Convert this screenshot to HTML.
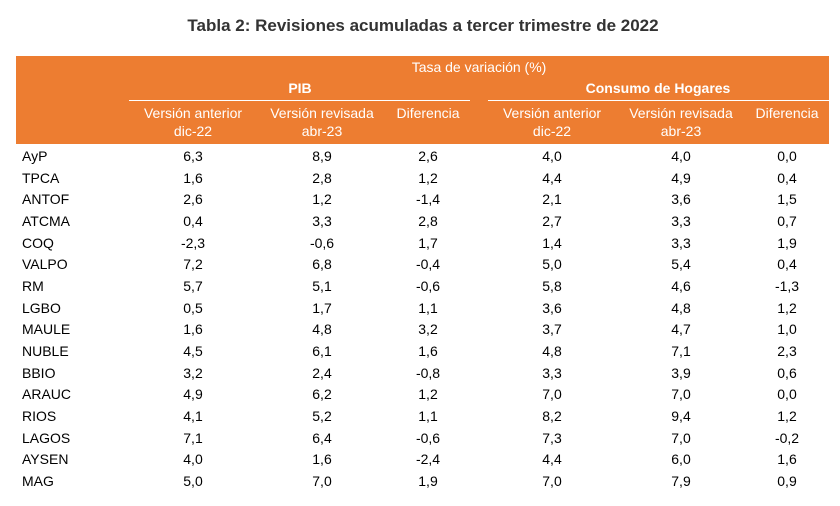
<!DOCTYPE html>
<html><head><meta charset="utf-8"><style>
body{margin:0;width:840px;height:506px;background:#fff;font-family:"Liberation Sans",sans-serif;position:relative;overflow:hidden;color:#000}
.t{position:absolute;white-space:nowrap;font-size:14px;line-height:16px}
.c{transform:translateX(-50%)}
.w{color:#fff}
.b{font-weight:bold}
</style></head><body>
<div class="t b c" style="left:423px;top:16px;font-size:17px;line-height:20px;color:#333">Tabla 2: Revisiones acumuladas a tercer trimestre de 2022</div>
<div style="position:absolute;left:16px;top:56px;width:813px;height:88px;background:#ED7D31"></div>
<div style="position:absolute;left:129px;top:100px;width:341px;height:1px;background:#fff"></div>
<div style="position:absolute;left:488px;top:100px;width:341px;height:1px;background:#fff"></div>
<div class="t w c" style="left:479px;top:59px">Tasa de variación (%)</div>
<div class="t w b c" style="left:300px;top:80px">PIB</div>
<div class="t w b c" style="left:658px;top:80px">Consumo de Hogares</div>
<div class="t w c" style="left:193px;top:105px">Versión anterior</div>
<div class="t w c" style="left:193px;top:123px">dic-22</div>
<div class="t w c" style="left:322px;top:105px">Versión revisada</div>
<div class="t w c" style="left:322px;top:123px">abr-23</div>
<div class="t w c" style="left:428px;top:105px">Diferencia</div>
<div class="t w c" style="left:552px;top:105px">Versión anterior</div>
<div class="t w c" style="left:552px;top:123px">dic-22</div>
<div class="t w c" style="left:681px;top:105px">Versión revisada</div>
<div class="t w c" style="left:681px;top:123px">abr-23</div>
<div class="t w c" style="left:787px;top:105px">Diferencia</div>
<div id="rows"></div>
<script>
var d=[["AyP","6,3","8,9","2,6","4,0","4,0","0,0"],["TPCA","1,6","2,8","1,2","4,4","4,9","0,4"],["ANTOF","2,6","1,2","-1,4","2,1","3,6","1,5"],["ATCMA","0,4","3,3","2,8","2,7","3,3","0,7"],["COQ","-2,3","-0,6","1,7","1,4","3,3","1,9"],["VALPO","7,2","6,8","-0,4","5,0","5,4","0,4"],["RM","5,7","5,1","-0,6","5,8","4,6","-1,3"],["LGBO","0,5","1,7","1,1","3,6","4,8","1,2"],["MAULE","1,6","4,8","3,2","3,7","4,7","1,0"],["NUBLE","4,5","6,1","1,6","4,8","7,1","2,3"],["BBIO","3,2","2,4","-0,8","3,3","3,9","0,6"],["ARAUC","4,9","6,2","1,2","7,0","7,0","0,0"],["RIOS","4,1","5,2","1,1","8,2","9,4","1,2"],["LAGOS","7,1","6,4","-0,6","7,3","7,0","-0,2"],["AYSEN","4,0","1,6","-2,4","4,4","6,0","1,6"],["MAG","5,0","7,0","1,9","7,0","7,9","0,9"]];
var xs=[193,322,428,552,681,787],h="";
d.forEach(function(r,i){var y=148+i*21.67;h+='<div class="t" style="left:22px;top:'+y+'px">'+r[0]+'</div>';
for(var j=1;j<7;j++)h+='<div class="t c" style="left:'+xs[j-1]+'px;top:'+y+'px">'+r[j]+'</div>';});
document.getElementById("rows").innerHTML=h;
</script>
</body></html>
